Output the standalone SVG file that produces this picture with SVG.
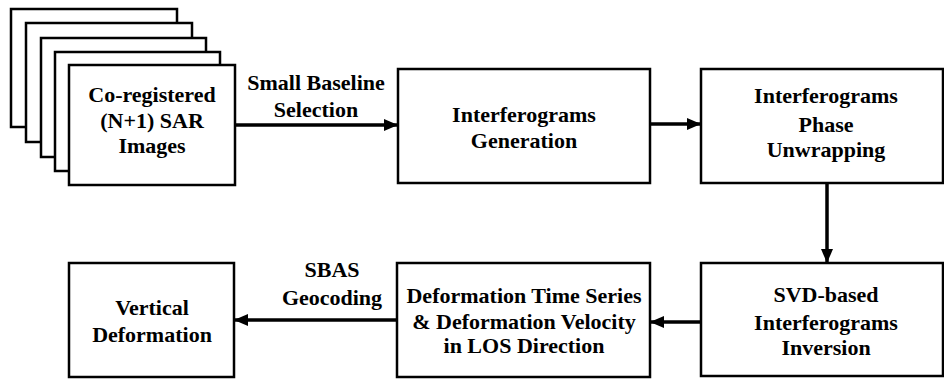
<svg xmlns="http://www.w3.org/2000/svg" width="944" height="379" viewBox="0 0 944 379" font-family="'Liberation Serif', 'Times New Roman', serif" font-size="22" font-weight="bold">
<defs>
<marker id="ah" markerWidth="14" markerHeight="12" refX="13" refY="6" orient="auto" markerUnits="userSpaceOnUse">
<path d="M0,0 L14,6 L0,12 Z" fill="#000"/>
</marker>
</defs>
<style>
.box{fill:#fff;stroke:#000;stroke-width:2.5}
.c{stroke:#000;stroke-width:3.5;fill:none}
</style>
<rect width="944" height="379" fill="#fff"/>
<g id="n1" text-anchor="middle">
<rect class="box" x="11" y="9" width="166" height="118"/>
<rect class="box" x="26" y="23" width="166" height="119"/>
<rect class="box" x="41" y="38" width="165" height="119"/>
<rect class="box" x="55" y="52" width="165" height="119"/>
<rect class="box" x="69" y="65" width="166" height="120"/>
<text x="152" y="102">Co-registered</text>
<text x="152" y="128">(N+1) SAR</text>
<text x="152" y="153">Images</text>
</g>
<g id="n2" text-anchor="middle">
<rect class="box" x="398" y="69" width="252" height="114"/>
<text x="524" y="122">Interferograms</text>
<text x="524" y="148">Generation</text>
</g>
<g id="n3" text-anchor="middle">
<rect class="box" x="701" y="69" width="242" height="114"/>
<text x="826" y="103">Interferograms</text>
<text x="826" y="132">Phase</text>
<text x="826" y="157">Unwrapping</text>
</g>
<g id="n4" text-anchor="middle">
<rect class="box" x="701" y="263" width="242" height="113"/>
<text x="826" y="302">SVD-based</text>
<text x="826" y="330">Interferograms</text>
<text x="826" y="355">Inversion</text>
</g>
<g id="n5" text-anchor="middle">
<rect class="box" x="397" y="263" width="253" height="114"/>
<text x="524" y="303">Deformation Time Series</text>
<text x="524" y="329">&amp; Deformation Velocity</text>
<text x="524" y="353">in LOS Direction</text>
</g>
<g id="n6" text-anchor="middle">
<rect class="box" x="69" y="263" width="165" height="114"/>
<text x="152" y="315">Vertical</text>
<text x="152" y="342">Deformation</text>
</g>
<g id="connectors" text-anchor="middle">
<line class="c" x1="236" y1="125" x2="397" y2="125" marker-end="url(#ah)"/>
<line class="c" x1="651" y1="124" x2="700" y2="124" marker-end="url(#ah)"/>
<line class="c" x1="827" y1="184" x2="827" y2="262" marker-end="url(#ah)"/>
<line class="c" x1="700" y1="322" x2="651" y2="322" marker-end="url(#ah)"/>
<line class="c" x1="396" y1="320" x2="235" y2="320" marker-end="url(#ah)"/>
<text x="316" y="90">Small Baseline</text>
<text x="316" y="117">Selection</text>
<text x="332" y="277">SBAS</text>
<text x="332" y="305">Geocoding</text>
</g>
</svg>
